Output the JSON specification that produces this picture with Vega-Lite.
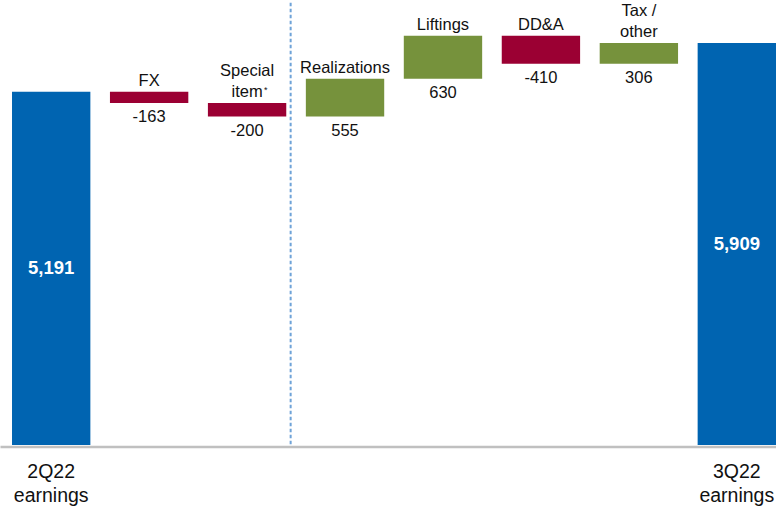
{
  "$schema": "https://vega.github.io/schema/vega-lite/v6.json",
  "width": 776,
  "height": 445,
  "autosize": {"type": "none"},
  "padding": {"top": 0, "left": 0, "right": 0, "bottom": 61},
  "background": "white",
  "config": {"view": {"stroke": null}, "font": "Liberation Sans"},
  "data": {
    "values": [
      {"step": "2Q22 earnings", "line1": "2Q22", "line2": "earnings", "note": "", "kind": "total", "start": 0, "end": 5191, "amount": 5191},
      {"step": "FX", "line1": "", "line2": "FX", "note": "", "kind": "decrease", "start": 5191, "end": 5028, "amount": -163},
      {"step": "Special item", "line1": "Special", "line2": "item", "note": "*", "kind": "decrease", "start": 5028, "end": 4828, "amount": -200},
      {"step": "Realizations", "line1": "", "line2": "Realizations", "note": "", "kind": "increase", "start": 4828, "end": 5383, "amount": 555},
      {"step": "Liftings", "line1": "", "line2": "Liftings", "note": "", "kind": "increase", "start": 5383, "end": 6013, "amount": 630},
      {"step": "DD&A", "line1": "", "line2": "DD&A", "note": "", "kind": "decrease", "start": 6013, "end": 5603, "amount": -410},
      {"step": "Tax / other", "line1": "Tax /", "line2": "other", "note": "", "kind": "increase", "start": 5603, "end": 5909, "amount": 306},
      {"step": "3Q22 earnings", "line1": "3Q22", "line2": "earnings", "note": "", "kind": "total", "start": 0, "end": 5909, "amount": 5909}
    ]
  },
  "transform": [
    {"calculate": "max(datum.start, datum.end)", "as": "hi"},
    {"calculate": "min(datum.start, datum.end)", "as": "lo"},
    {"calculate": "(datum.start + datum.end) / 2", "as": "mid"}
  ],
  "layer": [
    {
      "mark": {"type": "bar"},
      "encoding": {
        "x": {"field": "step", "type": "nominal", "sort": null,
              "axis": {"domain": true, "domainColor": "#C0C0C0", "domainWidth": 2.6, "offset": 1.5,
                       "labels": false, "ticks": false, "title": null, "grid": false},
              "scale": {"paddingInner": 0.2, "paddingOuter": 0.0613, "align": 1}},
        "y": {"field": "start", "type": "quantitative", "axis": null, "scale": {"domain": [0, 6540], "nice": false}},
        "y2": {"field": "end"},
        "color": {"field": "kind", "type": "nominal", "legend": null,
                  "scale": {"domain": ["total", "decrease", "increase"], "range": ["#0064B1", "#9B0033", "#76923C"]}}
      }
    },
    {
      "transform": [{"filter": "datum.step == 'Realizations'"}, {"calculate": "6500", "as": "top"}, {"calculate": "0", "as": "bottom"}],
      "mark": {"type": "rule", "color": "#6FA3D8", "strokeWidth": 2, "strokeDash": [3.5, 2.5], "xOffset": -15.2},
      "encoding": {
        "x": {"field": "step", "type": "nominal", "sort": null, "bandPosition": 0},
        "y": {"field": "top", "type": "quantitative", "axis": null},
        "y2": {"field": "bottom"}
      }
    },
    {
      "transform": [{"filter": "datum.kind != 'total'"}],
      "mark": {"type": "text", "baseline": "alphabetic", "align": "center", "dy": -5.8, "fontSize": 16.5, "color": "#111111"},
      "encoding": {
        "x": {"field": "step", "type": "nominal", "sort": null},
        "y": {"field": "hi", "type": "quantitative", "axis": null},
        "text": {"field": "line2", "type": "nominal"}
      }
    },
    {
      "transform": [{"filter": "datum.note != ''"}],
      "mark": {"type": "text", "baseline": "alphabetic", "align": "left", "dx": 17, "dy": -9.5, "fontSize": 9, "color": "#111111"},
      "encoding": {
        "x": {"field": "step", "type": "nominal", "sort": null},
        "y": {"field": "hi", "type": "quantitative", "axis": null},
        "text": {"field": "note", "type": "nominal"}
      }
    },
    {
      "transform": [{"filter": "datum.kind != 'total' && datum.line1 != ''"}],
      "mark": {"type": "text", "baseline": "alphabetic", "align": "center", "dy": -26.6, "fontSize": 16.5, "color": "#111111"},
      "encoding": {
        "x": {"field": "step", "type": "nominal", "sort": null},
        "y": {"field": "hi", "type": "quantitative", "axis": null},
        "text": {"field": "line1", "type": "nominal"}
      }
    },
    {
      "transform": [{"filter": "datum.kind != 'total'"}],
      "mark": {"type": "text", "baseline": "top", "align": "center", "dy": 6.3, "fontSize": 16.5, "color": "#111111"},
      "encoding": {
        "x": {"field": "step", "type": "nominal", "sort": null},
        "y": {"field": "lo", "type": "quantitative", "axis": null},
        "text": {"field": "amount", "type": "nominal"}
      }
    },
    {
      "transform": [{"filter": "datum.kind == 'total'"}],
      "mark": {"type": "text", "baseline": "middle", "align": "center", "fontSize": 18.5, "fontWeight": "bold", "color": "white"},
      "encoding": {
        "x": {"field": "step", "type": "nominal", "sort": null},
        "y": {"field": "mid", "type": "quantitative", "axis": null},
        "text": {"field": "amount", "type": "quantitative", "format": ",d"}
      }
    },
    {
      "transform": [{"filter": "datum.kind == 'total'"}, {"calculate": "0", "as": "floor"}],
      "mark": {"type": "text", "baseline": "alphabetic", "align": "center", "dy": 33.3, "fontSize": 19.5, "color": "#111111"},
      "encoding": {
        "x": {"field": "step", "type": "nominal", "sort": null},
        "y": {"field": "floor", "type": "quantitative", "axis": null},
        "text": {"field": "line1", "type": "nominal"}
      }
    },
    {
      "transform": [{"filter": "datum.kind == 'total'"}, {"calculate": "0", "as": "floor"}],
      "mark": {"type": "text", "baseline": "alphabetic", "align": "center", "dy": 56.7, "fontSize": 19.5, "color": "#111111"},
      "encoding": {
        "x": {"field": "step", "type": "nominal", "sort": null},
        "y": {"field": "floor", "type": "quantitative", "axis": null},
        "text": {"field": "line2", "type": "nominal"}
      }
    }
  ]
}
